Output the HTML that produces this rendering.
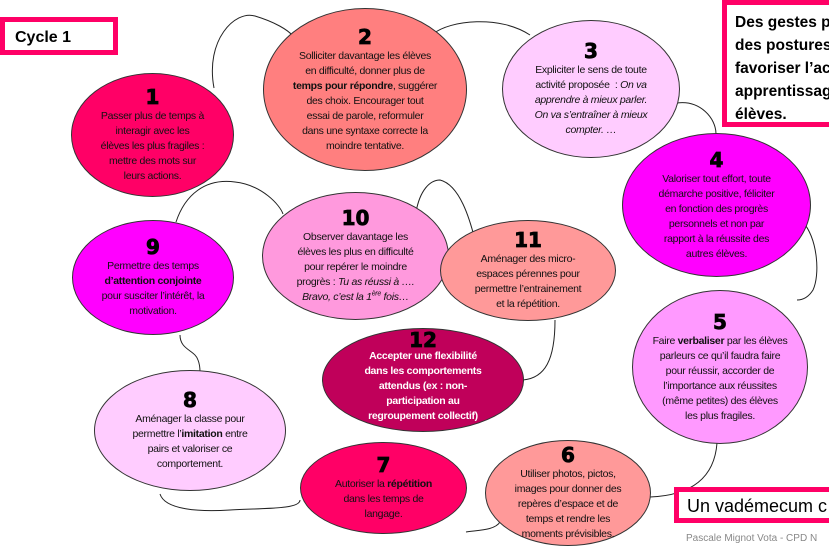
<!DOCTYPE html>
<html><head><meta charset="utf-8"><style>
body{margin:0;width:829px;height:553px;background:#fff;position:relative;overflow:hidden;font-family:"Liberation Sans",sans-serif}
.e{position:absolute;border:1px solid #333;border-radius:50%;box-sizing:border-box;display:flex;flex-direction:column;align-items:center;justify-content:center;text-align:center;color:#111;font-size:10.5px;line-height:15px;letter-spacing:-0.3px}
.e b.n{font-family:"DejaVu Sans","Liberation Sans",sans-serif;font-weight:900;font-size:20px;line-height:22px;letter-spacing:0;color:#000;margin-bottom:1px;-webkit-text-stroke:0.8px #000}
.e p{margin:0}
.box{position:absolute;border:5px solid #ff0066;box-sizing:border-box;background:#fff;font-weight:bold;color:#000}
svg{position:absolute;left:0;top:0}
</style></head><body>
<svg width="829" height="553"><g fill="none" stroke="#222" stroke-width="1">
<path d="M214 88 C205 40 235 10 255 16 C275 22 288 30 293 36"/>
<path d="M433 34 C450 20 500 15 530 35"/>
<path d="M677 103 C700 100 716 118 716 134"/>
<path d="M803 222 C818 240 820 275 813 290 C808 298 802 300 797 300"/>
<path d="M717 443 C715 470 700 495 650 497"/>
<path d="M533 508 C510 505 505 515 500 522 C495 530 480 530 466 532"/>
<path d="M160 494 C165 510 200 512 230 510 C260 508 300 510 300 500"/>
<path d="M180 335 C180 350 195 350 198 360 C200 365 200 370 200 372"/>
<path d="M176 222 C185 195 205 178 235 182 C262 185 280 205 283 214"/>
<path d="M416 212 C420 190 430 180 440 180 C460 185 470 220 475 240"/>
<path d="M555 320 C555 360 545 378 523 380"/>
</g></svg>

<div class="box" style="left:0;top:17px;width:118px;height:38px;font-size:16px;padding:7px 0 0 10px">Cycle 1</div>
<div class="box" style="left:722px;top:0;width:120px;height:127px;font-size:15.5px;line-height:23px;padding:6px 0 0 8px;white-space:nowrap">Des gestes p<br>des postures<br>favoriser l’ac<br>apprentissag<br>élèves.</div>
<div class="box" style="left:674px;top:487px;width:170px;height:36px;font-size:18px;font-weight:normal;padding:4px 0 0 8px;white-space:nowrap">Un vadémecum c</div>
<div style="position:absolute;left:686px;top:533px;font-size:10px;color:#888;white-space:nowrap">Pascale Mignot Vota - CPD N</div>

<div class="e" style="left:71px;top:73px;width:163px;height:124px;background:#ff0066"><b class="n">1</b><p>Passer plus de temps à<br>interagir avec les<br>élèves les plus fragiles :<br>mettre des mots sur<br>leurs actions.</p></div>
<div class="e" style="left:263px;top:8px;width:204px;height:163px;background:#ff7f7f"><b class="n">2</b><p>Solliciter davantage les élèves<br>en difficulté, donner plus de<br><b>temps pour répondre</b>, suggérer<br>des choix. Encourager tout<br>essai de parole, reformuler<br>dans une syntaxe correcte la<br>moindre tentative.</p></div>
<div class="e" style="left:502px;top:20px;width:178px;height:138px;background:#ffccff"><b class="n">3</b><p>Expliciter le sens de toute<br>activité proposée &nbsp;: <i>On va<br>apprendre à mieux parler.<br>On va s’entraîner à mieux<br>compter. …</i></p></div>
<div class="e" style="left:622px;top:133px;width:189px;height:144px;background:#ff00ff"><b class="n">4</b><p>Valoriser tout effort, toute<br>démarche positive, féliciter<br>en fonction des progrès<br>personnels et non par<br>rapport à la réussite des<br>autres élèves.</p></div>
<div class="e" style="left:632px;top:290px;width:176px;height:154px;background:#ff99ff"><b class="n">5</b><p>Faire <b>verbaliser</b> par les élèves<br>parleurs ce qu’il faudra faire<br>pour réussir, accorder de<br>l’importance aux réussites<br>(même petites) des élèves<br>les plus fragiles.</p></div>
<div class="e" style="left:485px;top:440px;width:166px;height:106px;background:#ff9999"><b class="n">6</b><p>Utiliser photos, pictos,<br>images pour donner des<br>repères d’espace et de<br>temps et rendre les<br>moments prévisibles.</p></div>
<div class="e" style="left:300px;top:442px;width:167px;height:92px;background:#ff0066"><b class="n">7</b><p>Autoriser la <b>répétition</b><br>dans les temps de<br>langage.</p></div>
<div class="e" style="left:94px;top:370px;width:192px;height:121px;background:#ffccff"><b class="n">8</b><p>Aménager la classe pour<br>permettre l’<b>imitation</b> entre<br>pairs et valoriser ce<br>comportement.</p></div>
<div class="e" style="left:72px;top:220px;width:162px;height:115px;background:#ff00ff"><b class="n">9</b><p>Permettre des temps<br><b>d’attention conjointe</b><br>pour susciter l’intérêt, la<br>motivation.</p></div>
<div class="e" style="left:262px;top:192px;width:187px;height:128px;background:#ff99dd"><b class="n">10</b><p>Observer davantage les<br>élèves les plus en difficulté<br>pour repérer le moindre<br>progrès : <i>Tu as réussi à ….<br>Bravo, c’est la 1<sup style="font-size:7px;line-height:0">ère</sup> fois…</i></p></div>
<div class="e" style="left:440px;top:220px;width:176px;height:101px;background:#ff9999"><b class="n">11</b><p>Aménager des micro-<br>espaces pérennes pour<br>permettre l’entrainement<br>et la répétition.</p></div>
<div class="e" style="left:322px;top:328px;width:202px;height:104px;background:#c0005a;color:#fff;justify-content:flex-start;padding-top:0"><b class="n" style="margin-bottom:-2px">12</b><p style="font-weight:bold">Accepter une flexibilité<br>dans les comportements<br>attendus (ex : non-<br>participation au<br>regroupement collectif)</p></div>
</body></html>
